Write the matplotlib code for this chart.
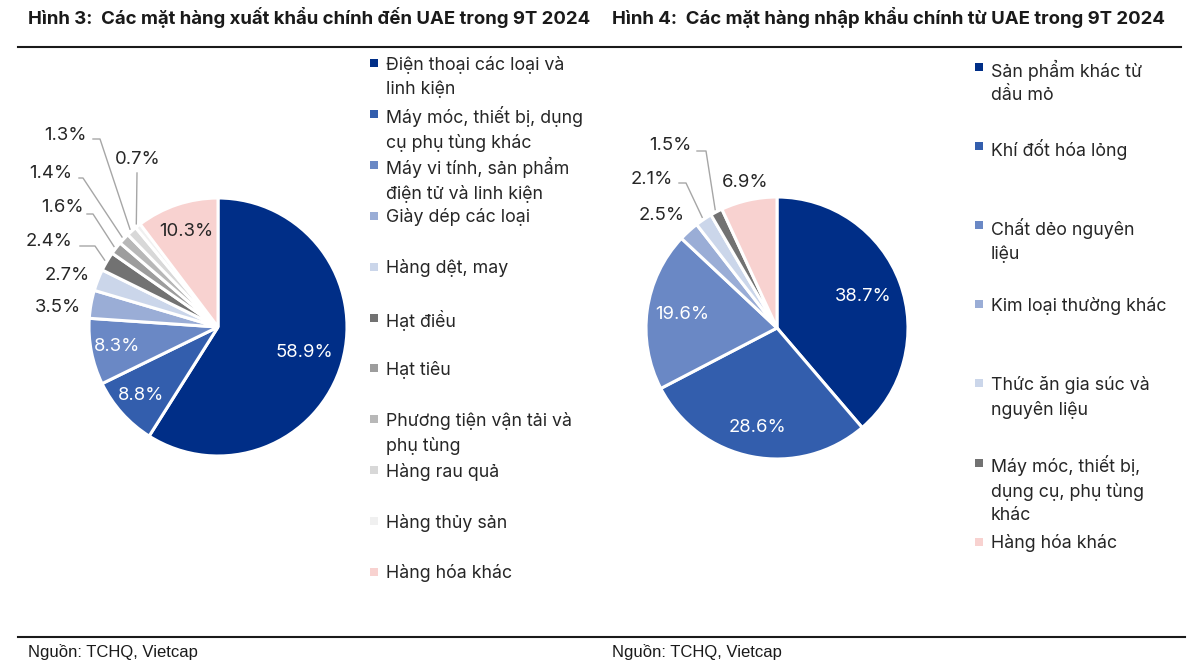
import numpy as np
import matplotlib
matplotlib.use("Agg")
import matplotlib.pyplot as plt

plt.rcParams["font.family"] = ["Inter", "DejaVu Sans"]

W, H = 1200, 671
TXT = "#262626"

# Hinh 3 - xuat khau
EXP_TITLE = "Hình 3:  Các mặt hàng xuất khẩu chính đến UAE trong 9T 2024"
EXP_LABELS = ["Điện thoại các loại và\nlinh kiện", "Máy móc, thiết bị, dụng\ncụ phụ tùng khác",
              "Máy vi tính, sản phẩm\nđiện tử và linh kiện", "Giày dép các loại", "Hàng dệt, may",
              "Hạt điều", "Hạt tiêu", "Phương tiện vận tải và\nphụ tùng", "Hàng rau quả",
              "Hàng thủy sản", "Hàng hóa khác"]
EXP_VALUES = [58.9, 8.8, 8.3, 3.5, 2.7, 2.4, 1.6, 1.4, 1.3, 0.7, 10.3]
EXP_COLORS = ["#002e87", "#335ead", "#6a88c5", "#9aadd6", "#cbd6ea", "#727272",
              "#9d9d9d", "#b8b8b8", "#d8d8d8", "#f0f0f0", "#f8d2d0"]

# Hinh 4 - nhap khau
IMP_TITLE = "Hình 4:  Các mặt hàng nhập khẩu chính từ UAE trong 9T 2024"
IMP_LABELS = ["Sản phẩm khác từ\ndầu mỏ", "Khí đốt hóa lỏng", "Chất dẻo nguyên\nliệu",
              "Kim loại thường khác", "Thức ăn gia súc và\nnguyên liệu",
              "Máy móc, thiết bị,\ndụng cụ, phụ tùng\nkhác", "Hàng hóa khác"]
IMP_VALUES = [38.7, 28.6, 19.6, 2.5, 2.1, 1.5, 6.9]
IMP_COLORS = ["#002e87", "#335ead", "#6a88c5", "#9aadd6", "#cbd6ea", "#727272", "#f8d2d0"]

SOURCE = "Nguồn: TCHQ, Vietcap"


def Y(py):
    # pixel row (from top) -> data y
    return H - py


fig = plt.figure(figsize=(12, 6.71), dpi=100)
ax = fig.add_axes([0, 0, 1, 1])


def draw_pie(values, colors, cx, cy, r, inside, outside, leaders):
    wedges, _ = ax.pie(values, colors=colors, startangle=90, counterclock=False,
                       center=(cx, Y(cy)), radius=r,
                       wedgeprops=dict(edgecolor="white", linewidth=2.2))
    for i, (w, v) in enumerate(zip(wedges, values)):
        a = np.deg2rad((w.theta1 + w.theta2) / 2)
        lab = "%.1f%%" % v
        if i in inside:
            d, col = inside[i]
            ax.text(cx + d * r * np.cos(a), Y(cy) + d * r * np.sin(a), lab, color=col,
                    fontsize=13.3, ha="center", va="center")
        elif i in outside:
            px, py = outside[i]
            ax.text(px, Y(py), lab, color=TXT, fontsize=13.3, ha="center", va="center")
        if i in leaders:
            (sx, sy), (kx, ky) = leaders[i]
            ex, ey = cx + 1.02 * r * np.cos(a), Y(cy) + 1.02 * r * np.sin(a)
            ax.plot([sx, kx, ex], [Y(sy), Y(ky), ey], color="#a6a6a6", lw=1)


def draw_legend(labels, colors, mx, tx, y0, step):
    for i, (lab, c) in enumerate(zip(labels, colors)):
        y = y0 + i * step
        ax.scatter([mx], [Y(y)], marker="s", s=36, color=c, linewidths=0)
        ax.text(tx, Y(y - 7.5), lab, fontsize=12.8, color=TXT, ha="left", va="top",
                linespacing=1.5)


draw_pie(EXP_VALUES, EXP_COLORS, 218, 327, 129,
         inside={0: (0.7, "white"), 1: (0.8, "white"), 2: (0.8, "white"), 10: (0.78, TXT)},
         outside={3: (58, 307), 4: (67, 275), 5: (49, 242), 6: (62, 208), 7: (51, 173),
                  8: (65, 135), 9: (138, 160)},
         leaders={5: ((80, 246), (95, 246)), 6: ((87, 214), (93, 214)),
                  7: ((79, 178), (83, 178)), 8: ((93, 139), (100, 139)),
                  9: ((137, 173), (137, 173))})
draw_pie(IMP_VALUES, IMP_COLORS, 777, 328, 131,
         inside={0: (0.7, "white"), 1: (0.77, "white"), 2: (0.73, "white"), 6: (1.14, TXT)},
         outside={3: (662, 216), 4: (652, 180), 5: (670, 145)},
         leaders={4: ((679, 183), (686, 183)), 5: ((697, 151), (706, 151))})

draw_legend(EXP_LABELS, EXP_COLORS, 374, 386, 63, 50.9)
draw_legend(IMP_LABELS, IMP_COLORS, 979, 991, 67, 79.1)

ax.text(28, Y(18), EXP_TITLE, fontsize=13.4, fontweight="bold", color="#1a1a1a",
        ha="left", va="center")
ax.text(612, Y(18), IMP_TITLE, fontsize=13.4, fontweight="bold", color="#1a1a1a",
        ha="left", va="center")
ax.plot([18, 1181], [Y(47), Y(47)], color="#1a1a1a", lw=1.5)
ax.plot([18, 1185], [Y(637), Y(637)], color="#1a1a1a", lw=1.5)
for x in (28, 612):
    ax.text(x, Y(652), SOURCE, fontsize=12, color="#1a1a1a", ha="left", va="center",
            family=["Liberation Sans Narrow", "Liberation Sans"])

ax.set_xlim(0, W)
ax.set_ylim(0, H)
ax.set_aspect("equal")
ax.axis("off")
fig.savefig("out.png", dpi=100)
